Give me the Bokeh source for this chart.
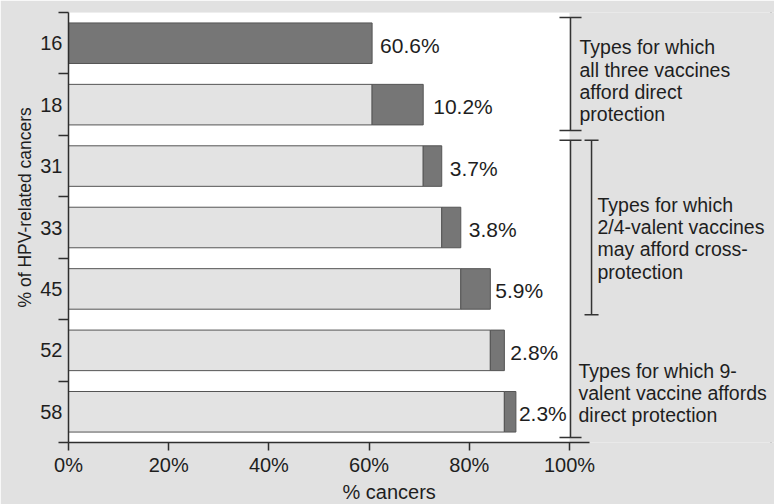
from bokeh.plotting import figure
from bokeh.models import Range1d, FixedTicker, PrintfTickFormatter, Title
from bokeh.embed import file_html
from bokeh.resources import INLINE
from bokeh.core.properties import value

# ---------------- data ----------------
hpv_types = ["16", "18", "31", "33", "45", "52", "58"]
type_share = [60.6, 10.2, 3.7, 3.8, 5.9, 2.8, 2.3]
x_ticks = [0, 20, 40, 60, 80, 100]
x_axis_title = "% cancers"
y_axis_title = "% of HPV-related cancers"

group_text = [
    ["Types for which", "all three vaccines", "afford direct", "protection"],
    ["Types for which", "2/4-valent vaccines", "may afford cross-", "protection"],
    ["Types for which 9-", "valent vaccine affords", "direct protection"],
]
# (first type, last type) covered by each bracket
group_span = [("16", "18"), ("31", "45"), ("31", "58")]

# ---------------- styles ----------------
FONT = "Liberation Sans"
BG = "#e1e1e1"
LIGHT = "#e3e3e3"
DARK = "#767676"
EDGE = "#555555"
INK = "#1e1e1e"
AX = "#2e2e2e"
label_dx = [8, 10, 8, 8, 5, 6, 3]

W, H = 774, 504
FL, FT, FB = 68, 12, 442          # frame left / top / bottom (px)

n = len(hpv_types)
ypos = [n - i for i in range(n)]
ends = []
acc = 0.0
for v in type_share:
    acc += v
    ends.append(round(acc, 1))
starts = [round(e - v, 1) for e, v in zip(ends, type_share)]

PX_X = 5.01                   # pixels per percent
PX_Y = (FB - FT) / n          # pixels per category
def yref(r):                  # pixel row -> data y
    return n + 0.5 - (r - FT) / PX_Y
def xref(c):                  # pixel column -> data x
    return (c - FL) / PX_X

p = figure(width=W, height=H, output_backend="svg", toolbar_location=None,
           title=None,
           x_range=Range1d(0, (W - FL) / PX_X), y_range=Range1d(0.5, n + 0.5),
           min_border_left=FL, min_border_right=0, min_border_top=FT,
           min_border_bottom=H - FB,
           background_fill_color=BG, border_fill_color=BG,
           outline_line_color=None,
           styles={"outline": "2px solid #8e8e8e", "outline-offset": "-4px"})
p.grid.visible = False

# white plot area
p.quad(left=[x_ticks[0]], right=[x_ticks[-1]], bottom=[0.5], top=[n + 0.5],
       fill_color="white", line_color=None, level="underlay")

# bars
light_y = [y for y, s in zip(ypos, starts) if s > 0]
light_r = [s for s in starts if s > 0]
p.hbar(y=light_y, left=0, right=light_r, height=0.66,
       fill_color=LIGHT, line_color=EDGE, line_width=1)
p.hbar(y=ypos, left=starts, right=ends, height=0.66,
       fill_color=DARK, line_color=EDGE, line_width=1)

p.text(x=ends, y=ypos, text=[f"{v}%" for v in type_share],
       x_offset=label_dx, y_offset=2, text_baseline="middle", text_align="left",
       text_font=value(FONT), text_font_size="21px", text_color=INK)

# axes
xa = p.xaxis[0]
xa.ticker = FixedTicker(ticks=x_ticks)
xa.formatter = PrintfTickFormatter(format="%d%%")
xa.bounds = (0, 104)
xa.major_tick_out = 8
xa.major_tick_in = 0
xa.minor_tick_line_color = None
xa.axis_line_color = AX
xa.axis_line_width = 1.5
xa.major_tick_line_color = AX
xa.major_tick_line_width = 1.5
xa.major_label_standoff = 3
xa.major_label_text_font = FONT
xa.major_label_text_font_size = "20px"
xa.major_label_text_color = INK

ya = p.yaxis[0]
ya.ticker = FixedTicker(ticks=ypos, minor_ticks=[y - 0.5 for y in ypos] + [n + 0.5])
ya.major_label_overrides = {y: t for y, t in zip(ypos, hpv_types)}
ya.major_tick_line_color = None
ya.major_tick_out = 0
ya.major_tick_in = 0
ya.minor_tick_out = 10
ya.minor_tick_in = 0
ya.minor_tick_line_color = AX
ya.minor_tick_line_width = 1.5
ya.axis_line_color = AX
ya.axis_line_width = 1.5
ya.major_label_standoff = -4
ya.major_label_text_font = FONT
ya.major_label_text_font_size = "20px"
ya.major_label_text_color = INK

# axis titles (as titles so they can be offset along the frame)
p.add_layout(Title(text=x_axis_title, align="left", offset=342 - FL,
                   standoff=0, text_font=FONT, text_font_size="20px",
                   text_font_style="normal", text_color=INK), "below")
p.add_layout(Title(text=y_axis_title, align="left", offset=FB - 307,
                   standoff=5, text_font=FONT, text_font_size="17.5px",
                   text_font_style="normal", text_color=INK), "left")

# brackets
bracket_x = [100.2, 104.4, 100.2]
cap_half = [2.2, 1.4, 2.2]
inset = 0.08
vx0, vy0, vx1, vy1 = [], [], [], []
for (a, b), bx, h in zip(group_span, bracket_x, cap_half):
    yt = ypos[hpv_types.index(a)] + 0.5 - inset
    yb = ypos[hpv_types.index(b)] - 0.5 + inset
    vx0 += [bx, bx - h, bx - h]
    vx1 += [bx, bx + h, bx + h]
    vy0 += [yt, yt, yb]
    vy1 += [yb, yt, yb]
p.segment(x0=vx0, y0=vy0, x1=vx1, y1=vy1, line_color="#333333", line_width=1.5)

# group texts
text_x = [xref(579), xref(597), xref(578)]
text_base = [46.7, 204, 370]
line_gap = 22.4
tx, ty, tt = [], [], []
for lines, x0, b0 in zip(group_text, text_x, text_base):
    for k, line in enumerate(lines):
        tx.append(x0)
        ty.append(yref(b0 + k * line_gap))
        tt.append(line)
p.text(x=tx, y=ty, text=tt, text_baseline="alphabetic", text_align="left",
       text_font=value(FONT), text_font_size="19.5px", text_color=INK)

open("out.html", "w").write(file_html(p, INLINE))
